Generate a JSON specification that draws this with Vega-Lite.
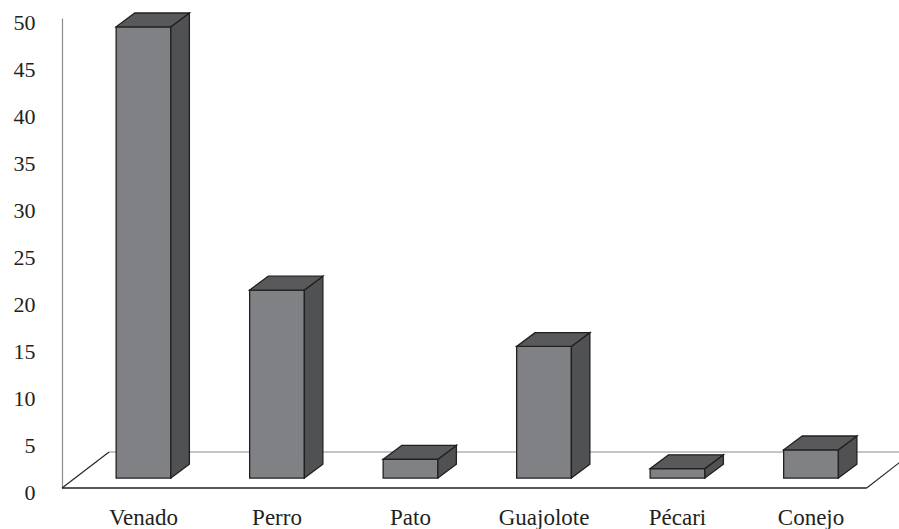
{
  "$schema": "https://vega.github.io/schema/vega-lite/v6.json",
  "width": 837,
  "height": 470,
  "autosize": {"type": "none"},
  "padding": {"left": 62, "top": 18, "right": 0, "bottom": 41},
  "background": "white",
  "config": {
    "view": {"stroke": null},
    "axisY": {
      "grid": false,
      "ticks": false,
      "domainColor": "#8c8c8c",
      "domainWidth": 1.2,
      "labelFont": "Liberation Serif",
      "labelFontSize": 22,
      "labelColor": "#231f20",
      "labelPadding": 27,
      "labelOffset": 4,
      "tickCount": 10
    }
  },
  "layer": [
    {
      "description": "floor: back edge",
      "data": {"values": [{}]},
      "mark": {"type": "rule", "stroke": "#8c8c8c", "strokeWidth": 1.2},
      "encoding": {
        "x": {"datum": -0.258, "type": "quantitative", "scale": {"domain": [-0.6105, 5.659], "nice": false, "zero": false}, "axis": null},
        "x2": {"datum": 5.764},
        "y": {"datum": 3.83, "type": "quantitative", "scale": {"domain": [0, 50], "nice": false}, "title": null},
        "y2": {"datum": 3.83}
      }
    },
    {
      "description": "floor: front, left and right edges",
      "data": {"values": [{}]},
      "layer": [
        {
          "mark": {"type": "rule", "stroke": "#231f20", "strokeWidth": 1.3},
          "encoding": {
            "x": {"datum": -0.6105, "type": "quantitative", "axis": null},
            "x2": {"datum": 5.417},
            "y": {"datum": 0, "type": "quantitative", "title": null},
            "y2": {"datum": 0}
          }
        },
        {
          "mark": {"type": "rule", "stroke": "#231f20", "strokeWidth": 1.1},
          "encoding": {
            "x": {"datum": -0.6105, "type": "quantitative", "axis": null},
            "x2": {"datum": -0.258},
            "y": {"datum": 0, "type": "quantitative", "title": null},
            "y2": {"datum": 3.83}
          }
        },
        {
          "mark": {"type": "rule", "stroke": "#231f20", "strokeWidth": 1.1},
          "encoding": {
            "x": {"datum": 5.417, "type": "quantitative", "axis": null},
            "x2": {"datum": 5.764},
            "y": {"datum": 0, "type": "quantitative", "title": null},
            "y2": {"datum": 3.83}
          }
        }
      ]
    },
    {
      "description": "3D columns: front face, side face, top face and category labels",
      "data": {
        "values": [
          {"animal": "Venado", "n": 48},
          {"animal": "Perro", "n": 20},
          {"animal": "Pato", "n": 2},
          {"animal": "Guajolote", "n": 14},
          {"animal": "Pécari", "n": 1},
          {"animal": "Conejo", "n": 3}
        ]
      },
      "transform": [
        {"window": [{"op": "row_number", "as": "rank"}]},
        {"calculate": "datum.rank - 1", "as": "i"}
      ],
      "layer": [
        {
          "transform": [
            {"calculate": "datum.i - 0.205", "as": "fx"},
            {"calculate": "datum.i + 0.205", "as": "fx2"},
            {"calculate": "1.06", "as": "fy"},
            {"calculate": "1.06 + datum.n", "as": "fy2"}
          ],
          "mark": {"type": "rect", "fill": "#808185", "stroke": "#231f20", "strokeWidth": 1.3},
          "encoding": {
            "x": {"field": "fx", "type": "quantitative", "axis": null},
            "x2": {"field": "fx2"},
            "y": {"field": "fy", "type": "quantitative", "title": null},
            "y2": {"field": "fy2"}
          }
        },
        {
          "transform": [
            {"calculate": "[0, 1]", "as": "e"},
            {"flatten": ["e"]},
            {"calculate": "datum.i + 0.205 + datum.e * 0.1386", "as": "sx"},
            {"calculate": "1.06 + datum.e * 1.47", "as": "sy"},
            {"calculate": "1.06 + datum.n + datum.e * 1.47", "as": "sy2"}
          ],
          "mark": {"type": "area", "orient": "vertical", "fill": "#505153", "stroke": "#231f20", "strokeWidth": 1.3, "strokeJoin": "miter"},
          "encoding": {
            "x": {"field": "sx", "type": "quantitative", "axis": null},
            "y": {"field": "sy", "type": "quantitative", "title": null},
            "y2": {"field": "sy2"},
            "detail": {"field": "animal"}
          }
        },
        {
          "transform": [
            {"calculate": "[0, 1]", "as": "e"},
            {"flatten": ["e"]},
            {"calculate": "datum.i - 0.205 + datum.e * 0.1386", "as": "tx"},
            {"calculate": "datum.i + 0.205 + datum.e * 0.1386", "as": "tx2"},
            {"calculate": "1.06 + datum.n + datum.e * 1.47", "as": "ty"}
          ],
          "mark": {"type": "area", "orient": "horizontal", "fill": "#58595b", "stroke": "#231f20", "strokeWidth": 1.3, "strokeJoin": "miter"},
          "encoding": {
            "y": {"field": "ty", "type": "quantitative", "title": null},
            "x": {"field": "tx", "type": "quantitative", "axis": null},
            "x2": {"field": "tx2"},
            "detail": {"field": "animal"}
          }
        },
        {
          "mark": {"type": "text", "font": "Liberation Serif", "fontSize": 23, "color": "#231f20", "baseline": "alphabetic", "align": "center", "dy": 37},
          "encoding": {
            "x": {"field": "i", "type": "quantitative", "axis": null},
            "y": {"datum": 0, "type": "quantitative", "title": null},
            "text": {"field": "animal"}
          }
        }
      ]
    }
  ]
}
